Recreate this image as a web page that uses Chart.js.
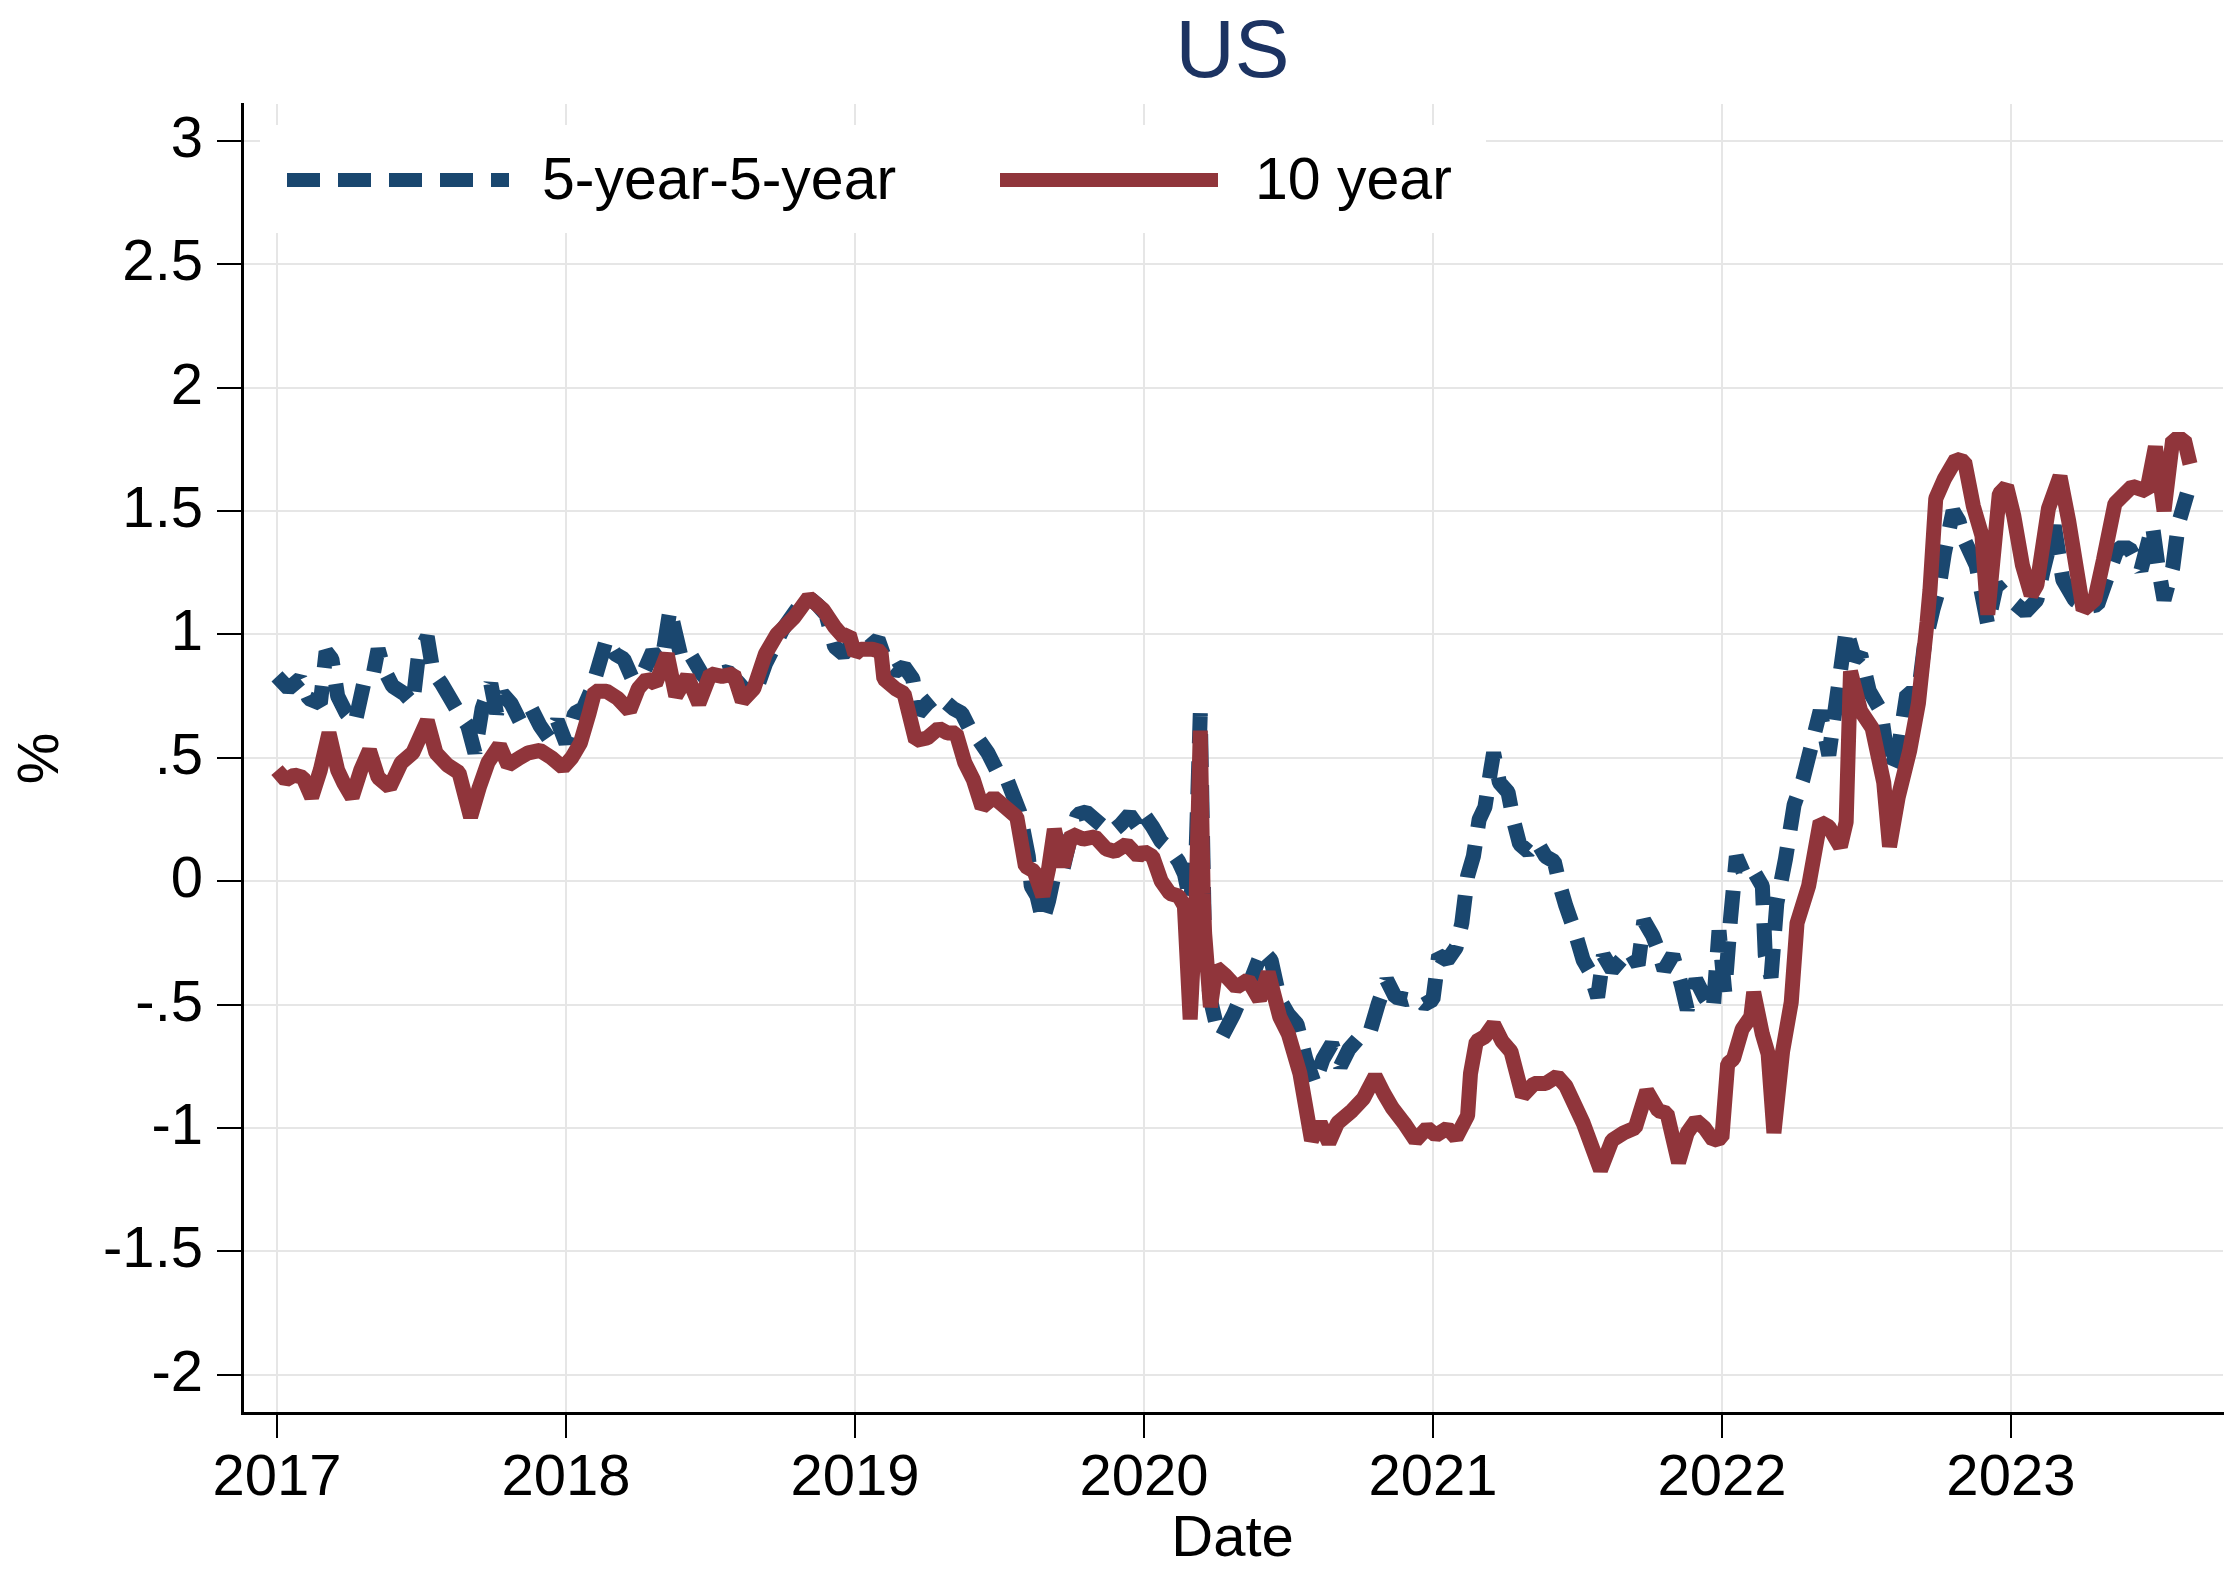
<!DOCTYPE html>
<html>
<head>
<meta charset="utf-8">
<script src="https://cdn.jsdelivr.net/npm/chart.js@4.4.1/dist/chart.umd.min.js"></script>
<style>
  html, body { margin: 0; padding: 0; background: #fff; }
  #c { display: block; }
</style>
</head>
<body>
<canvas id="c" width="2230" height="1569"></canvas>
<script>
// ---------------- DATA ----------------
const chartTitle = "US";
const xAxisTitle = "Date";
const yAxisTitle = "%";
const seriesLabels = ["5-year-5-year", "10 year"];

const xTickValues = [2017, 2018, 2019, 2020, 2021, 2022, 2023];
const yTickValues = [-2, -1.5, -1, -0.5, 0, 0.5, 1, 1.5, 2, 2.5, 3];
const yTickLabels = ["-2", "-1.5", "-1", "-.5", "0", ".5", "1", "1.5", "2", "2.5", "3"];

// 5-year-5-year forward (decimal year, %)
const fiveFiveDates = [
  2017.00,2017.04,2017.08,2017.11,2017.15,2017.17,2017.19,2017.21,2017.24,2017.27,
  2017.30,2017.33,2017.35,2017.37,2017.40,2017.44,2017.47,2017.49,2017.52,2017.54,
  2017.57,2017.60,2017.63,2017.66,2017.685,2017.71,2017.74,2017.76,2017.78,2017.81,
  2017.84,2017.88,2017.91,2017.94,2017.97,2018.00,2018.03,2018.06,2018.09,2018.11,
  2018.14,2018.17,2018.20,2018.23,2018.27,2018.30,2018.33,2018.36,2018.38,2018.40,
  2018.43,2018.47,2018.50,2018.53,2018.56,2018.60,2018.63,2018.66,2018.69,2018.72,
  2018.75,2018.78,2018.81,2018.84,2018.87,2018.90,2018.93,2018.96,2018.99,2019.02,
  2019.05,2019.08,2019.11,2019.14,2019.17,2019.20,2019.22,2019.25,2019.28,2019.31,
  2019.34,2019.37,2019.40,2019.43,2019.46,2019.49,2019.52,2019.55,2019.57,2019.60,
  2019.61,2019.63,2019.65,2019.67,2019.69,2019.72,2019.75,2019.77,2019.80,2019.83,
  2019.86,2019.89,2019.92,2019.95,2019.98,2020.00,2020.03,2020.06,2020.09,2020.12,
  2020.14,2020.16,2020.18,2020.195,2020.21,2020.23,2020.25,2020.27,2020.31,2020.34,
  2020.37,2020.41,2020.44,2020.47,2020.50,2020.53,2020.56,2020.59,2020.62,2020.65,
  2020.68,2020.71,2020.74,2020.78,2020.81,2020.84,2020.87,2020.91,2020.94,2020.97,
  2021.00,2021.02,2021.05,2021.08,2021.10,2021.12,2021.14,2021.16,2021.18,2021.20,
  2021.21,2021.23,2021.26,2021.28,2021.30,2021.33,2021.36,2021.39,2021.42,2021.44,
  2021.46,2021.49,2021.52,2021.54,2021.57,2021.59,2021.62,2021.65,2021.68,2021.71,
  2021.73,2021.76,2021.78,2021.80,2021.83,2021.86,2021.88,2021.91,2021.94,2021.97,
  2021.99,2022.01,2022.03,2022.05,2022.08,2022.11,2022.14,2022.15,2022.17,2022.19,
  2022.22,2022.25,2022.28,2022.31,2022.34,2022.37,2022.43,2022.46,2022.48,2022.51,
  2022.55,2022.58,2022.61,2022.64,2022.68,2022.70,2022.73,2022.75,2022.77,2022.80,
  2022.82,2022.84,2022.88,2022.92,2022.95,2022.98,2023.01,2023.05,2023.09,2023.11,
  2023.15,2023.18,2023.22,2023.26,2023.30,2023.33,2023.37,2023.41,2023.45,2023.49,
  2023.51,2023.53,2023.56,2023.58,2023.61
];
const fiveFiveValues = [
  0.83,0.78,0.82,0.74,0.72,0.93,0.90,0.75,0.68,0.64,
  0.80,0.82,0.94,0.86,0.79,0.76,0.72,0.92,0.99,0.85,
  0.80,0.74,0.68,0.63,0.52,0.70,0.80,0.68,0.76,0.72,
  0.65,0.70,0.63,0.58,0.65,0.56,0.68,0.70,0.78,0.86,
  0.98,0.92,0.90,0.82,0.85,0.93,0.88,1.10,1.00,0.90,
  0.92,0.84,0.80,0.84,0.85,0.80,0.76,0.78,0.88,0.95,
  1.02,1.07,1.12,1.15,1.12,1.08,0.95,0.92,0.96,1.00,
  0.95,0.98,0.88,0.85,0.87,0.82,0.68,0.72,0.75,0.73,
  0.70,0.68,0.61,0.57,0.52,0.45,0.43,0.34,0.28,0.10,
  -0.02,-0.06,-0.16,-0.08,0.03,0.05,0.20,0.27,0.28,0.25,
  0.22,0.20,0.23,0.27,0.22,0.27,0.22,0.16,0.13,0.08,
  0.03,-0.08,0.10,0.68,-0.27,-0.48,-0.58,-0.63,-0.54,-0.46,
  -0.40,-0.28,-0.32,-0.48,-0.54,-0.58,-0.72,-0.82,-0.72,-0.66,
  -0.75,-0.68,-0.64,-0.62,-0.50,-0.40,-0.47,-0.48,-0.47,-0.50,
  -0.48,-0.30,-0.32,-0.27,-0.17,0.02,0.10,0.25,0.30,0.45,
  0.52,0.40,0.36,0.24,0.15,0.12,0.16,0.10,0.08,-0.02,
  -0.10,-0.20,-0.32,-0.36,-0.47,-0.30,-0.36,-0.32,-0.28,-0.34,
  -0.16,-0.22,-0.28,-0.36,-0.30,-0.42,-0.52,-0.40,-0.47,-0.52,
  -0.20,-0.45,-0.15,0.10,0.02,0.04,-0.02,-0.30,-0.39,-0.09,
  0.09,0.31,0.41,0.55,0.69,0.51,1.02,0.90,0.92,0.77,
  0.69,0.45,0.53,0.76,0.76,0.95,1.10,1.18,1.33,1.50,
  1.46,1.38,1.28,1.04,1.20,1.16,1.13,1.09,1.14,1.25,
  1.44,1.22,1.14,1.11,1.12,1.22,1.35,1.35,1.26,1.44,
  1.27,1.14,1.27,1.45,1.57
];

// 10 year (decimal year, %)
const tenYearDates = [
  2017.00,2017.03,2017.06,2017.09,2017.12,2017.15,2017.18,2017.21,2017.23,2017.26,
  2017.29,2017.32,2017.35,2017.39,2017.43,2017.47,2017.52,2017.55,2017.59,2017.63,
  2017.67,2017.70,2017.73,2017.77,2017.80,2017.84,2017.87,2017.91,2017.95,2017.99,
  2018.02,2018.05,2018.08,2018.10,2018.14,2018.18,2018.22,2018.25,2018.28,2018.31,
  2018.35,2018.38,2018.42,2018.46,2018.50,2018.54,2018.58,2018.61,2018.65,2018.69,
  2018.73,2018.79,2018.84,2018.89,2018.93,2018.96,2018.98,2019.00,2019.02,2019.06,
  2019.09,2019.10,2019.14,2019.17,2019.21,2019.25,2019.29,2019.32,2019.35,2019.38,
  2019.41,2019.44,2019.48,2019.52,2019.56,2019.59,2019.62,2019.65,2019.67,2019.69,
  2019.72,2019.75,2019.79,2019.83,2019.87,2019.90,2019.94,2019.98,2020.00,2020.03,
  2020.06,2020.09,2020.12,2020.14,2020.16,2020.18,2020.195,2020.205,2020.21,2020.23,
  2020.25,2020.28,2020.32,2020.36,2020.40,2020.43,2020.47,2020.50,2020.54,2020.58,
  2020.61,2020.64,2020.67,2020.72,2020.76,2020.80,2020.83,2020.86,2020.90,2020.94,
  2020.98,2021.01,2021.05,2021.08,2021.12,2021.13,2021.15,2021.18,2021.21,2021.24,
  2021.27,2021.31,2021.35,2021.39,2021.43,2021.46,2021.52,2021.58,2021.62,2021.66,
  2021.70,2021.74,2021.78,2021.81,2021.85,2021.88,2021.91,2021.94,2021.97,2022.00,
  2022.02,2022.04,2022.07,2022.10,2022.11,2022.14,2022.16,2022.18,2022.21,2022.24,
  2022.26,2022.30,2022.34,2022.37,2022.41,2022.43,2022.445,2022.48,2022.52,2022.56,
  2022.58,2022.61,2022.65,2022.68,2022.71,2022.72,2022.74,2022.77,2022.81,2022.84,
  2022.87,2022.90,2022.92,2022.96,2022.985,2023.01,2023.04,2023.07,2023.09,2023.13,
  2023.17,2023.20,2023.25,2023.29,2023.32,2023.36,2023.42,2023.47,2023.50,2023.53,
  2023.56,2023.60,2023.62
];
const tenYearValues = [
  0.45,0.41,0.43,0.42,0.34,0.45,0.60,0.45,0.40,0.34,
  0.45,0.53,0.42,0.38,0.48,0.52,0.65,0.52,0.47,0.44,
  0.26,0.38,0.48,0.55,0.47,0.50,0.52,0.53,0.50,0.46,
  0.50,0.56,0.68,0.77,0.77,0.74,0.69,0.78,0.82,0.80,
  0.92,0.75,0.83,0.72,0.84,0.83,0.84,0.73,0.78,0.92,
  1.00,1.07,1.15,1.10,1.03,0.99,1.00,0.92,0.94,0.94,
  0.93,0.82,0.78,0.76,0.57,0.58,0.62,0.60,0.60,0.48,
  0.41,0.30,0.34,0.30,0.26,0.06,0.04,-0.06,0.05,0.21,
  0.06,0.19,0.17,0.18,0.13,0.12,0.15,0.10,0.12,0.10,
  0.00,-0.05,-0.06,-0.10,-0.56,-0.10,0.61,-0.05,-0.21,-0.51,
  -0.35,-0.38,-0.43,-0.40,-0.48,-0.37,-0.55,-0.62,-0.78,-1.05,
  -0.98,-1.06,-0.98,-0.93,-0.88,-0.79,-0.86,-0.92,-0.98,-1.05,
  -1.00,-1.03,-1.00,-1.04,-0.95,-0.78,-0.65,-0.63,-0.58,-0.65,
  -0.69,-0.87,-0.82,-0.82,-0.79,-0.83,-0.98,-1.17,-1.05,-1.02,
  -1.00,-0.85,-0.93,-0.94,-1.14,-1.02,-0.97,-1.00,-1.05,-1.04,
  -0.74,-0.72,-0.60,-0.55,-0.45,-0.62,-0.70,-1.02,-0.69,-0.49,
  -0.17,-0.02,0.24,0.22,0.14,0.24,0.85,0.69,0.62,0.40,
  0.14,0.34,0.53,0.72,1.05,1.18,1.55,1.63,1.71,1.70,
  1.52,1.40,1.08,1.57,1.60,1.48,1.28,1.16,1.20,1.51,
  1.64,1.46,1.10,1.14,1.30,1.53,1.60,1.58,1.76,1.50,
  1.79,1.79,1.69
];

// ---------------- STYLE ----------------
const FONT = '"Liberation Sans", Arial, Helvetica, sans-serif';
const BLUE = '#1a476f';
const RED = '#90353b';
const TITLE_COLOR = '#1c3362';

function toPoints(xs, ys) { return xs.map((x, i) => ({ x: x, y: ys[i] })); }

// Stata-style legend (inside plot region, white box over grid) and title centred on plot region
const stataDecor = {
  id: 'stataDecor',
  beforeDatasetsDraw(chart) {
    const { ctx, chartArea: a } = chart;
    ctx.save();
    ctx.fillStyle = '#ffffff';
    ctx.fillRect(a.left + 18, a.top + 21, 1226, 108);
    const pos = [
      { x0: a.left + 45, x1: a.left + 267, tx: a.left + 300 },
      { x0: a.left + 758, x1: a.left + 976, tx: a.left + 1013 }
    ];
    const ly = a.top + 76;
    chart.data.datasets.forEach((ds, i) => {
      const p = pos[i];
      ctx.beginPath();
      ctx.setLineDash(ds.borderDash || []);
      ctx.lineDashOffset = 0;
      ctx.lineCap = 'butt';
      ctx.lineWidth = 14;
      ctx.strokeStyle = ds.borderColor;
      ctx.moveTo(p.x0, ly);
      ctx.lineTo(p.x1, ly);
      ctx.stroke();
      ctx.setLineDash([]);
      ctx.fillStyle = '#000';
      ctx.font = '59px ' + FONT;
      ctx.textAlign = 'left';
      ctx.textBaseline = 'middle';
      ctx.fillText(ds.label, p.tx, ly + 3);
    });
    ctx.restore();
  },
  afterDraw(chart) {
    const { ctx, chartArea: a } = chart;
    ctx.save();
    ctx.fillStyle = TITLE_COLOR;
    ctx.font = '82px ' + FONT;
    ctx.textAlign = 'center';
    ctx.textBaseline = 'alphabetic';
    ctx.fillText(chartTitle, (a.left + a.right) / 2, 77);
    ctx.restore();
  }
};

const ctx = document.getElementById('c').getContext('2d');
new Chart(ctx, {
  type: 'line',
  data: {
    datasets: [
      {
        label: seriesLabels[0],
        data: toPoints(fiveFiveDates, fiveFiveValues),
        borderColor: BLUE,
        backgroundColor: BLUE,
        borderWidth: 15,
        borderDash: [33, 18],
        borderCapStyle: 'butt',
        borderJoinStyle: 'bevel',
        pointRadius: 0,
        tension: 0,
        order: 1
      },
      {
        label: seriesLabels[1],
        data: toPoints(tenYearDates, tenYearValues),
        borderColor: RED,
        backgroundColor: RED,
        borderWidth: 15,
        borderCapStyle: 'butt',
        borderJoinStyle: 'bevel',
        pointRadius: 0,
        tension: 0,
        order: 0
      }
    ]
  },
  options: {
    responsive: false,
    animation: false,
    devicePixelRatio: 1,
    layout: { padding: { left: 0, right: 7, top: 104, bottom: 0 } },
    plugins: {
      legend: { display: false },
      tooltip: { enabled: false },
      title: { display: false }
    },
    scales: {
      x: {
        type: 'linear',
        min: 2016.879,
        max: 2023.734,
        afterBuildTicks(scale) { scale.ticks = xTickValues.map(v => ({ value: v })); },
        afterFit(scale) { scale.height = 156; },
        ticks: {
          color: '#000',
          font: { family: FONT, size: 58, lineHeight: 1.2 },
          padding: 6,
          maxRotation: 0,
          autoSkip: false,
          callback: (v) => String(v)
        },
        grid: {
          color: '#e6e6e6',
          lineWidth: 2,
          tickColor: '#000',
          tickWidth: 2,
          tickLength: 25,
          drawTicks: true
        },
        border: { display: true, color: '#000', width: 3 },
        title: {
          display: true,
          text: xAxisTitle,
          color: '#000',
          font: { family: FONT, size: 58, lineHeight: 1 },
          padding: { top: 0, bottom: 0 }
        }
      },
      y: {
        type: 'linear',
        min: -2.155,
        max: 3.149,
        afterBuildTicks(scale) { scale.ticks = yTickValues.map(v => ({ value: v })); },
        afterFit(scale) { scale.width = 242; },
        ticks: {
          color: '#000',
          font: { family: FONT, size: 58, lineHeight: 1.2 },
          padding: 14,
          autoSkip: false,
          callback: (v) => {
            const i = yTickValues.findIndex(t => Math.abs(t - v) < 1e-9);
            return i >= 0 ? yTickLabels[i] : '';
          }
        },
        grid: {
          color: '#e6e6e6',
          lineWidth: 2,
          tickColor: '#000',
          tickWidth: 2,
          tickLength: 25,
          drawTicks: true
        },
        border: { display: true, color: '#000', width: 3 },
        title: {
          display: true,
          text: yAxisTitle,
          color: '#000',
          font: { family: FONT, size: 58, lineHeight: 1 },
          padding: { top: 13, bottom: 0 }
        }
      }
    }
  },
  plugins: [stataDecor]
});
</script>
</body>
</html>
